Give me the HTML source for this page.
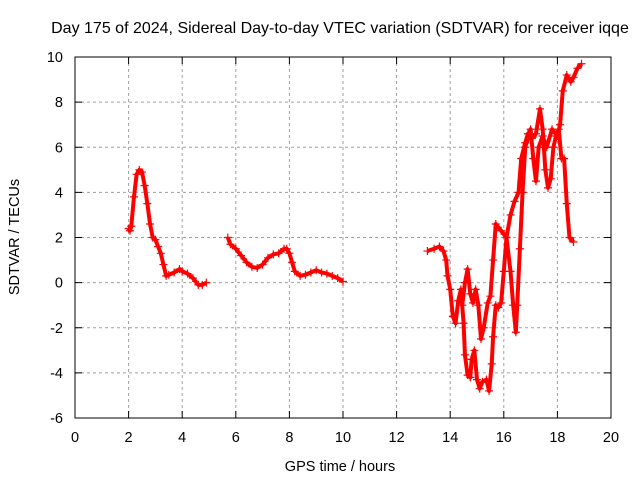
<!DOCTYPE html>
<html><head><meta charset="utf-8"><style>
body{margin:0;background:#fff}
svg{display:block;font-family:"Liberation Sans",sans-serif}
</style></head><body>
<svg id="chart" width="640" height="480" viewBox="0 0 640 480" xmlns="http://www.w3.org/2000/svg">
<rect width="640" height="480" fill="#fff"/>
<text x="340" y="33" font-size="16" text-anchor="middle">Day 175 of 2024, Sidereal Day-to-day VTEC variation (SDTVAR) for receiver iqqe</text>
<g id="grid"></g><g id="ticks"></g><g id="series"></g>
<rect x="75" y="57" width="536" height="361" fill="none" stroke="#000" stroke-width="1"/>
<text x="340" y="471" font-size="14.5" text-anchor="middle">GPS time / hours</text>
<text transform="translate(19,237) rotate(-90)" font-size="14.5" text-anchor="middle">SDTVAR / TECUs</text>
</svg>
<script>
const xTicks=[0,2,4,6,8,10,12,14,16,18,20];
const yTicks=[-6,-4,-2,0,2,4,6,8,10];
const seg1Time=[2.0,2.05,2.1,2.2,2.3,2.4,2.5,2.6,2.7,2.8,2.9,3.0,3.1,3.2,3.3,3.4,3.5,3.7,3.9,4.0,4.2,4.4,4.6,4.75,4.9];
const seg1Val=[2.4,2.3,2.5,3.8,4.8,5.0,4.9,4.3,3.5,2.6,2.0,1.9,1.6,1.3,0.8,0.3,0.35,0.45,0.6,0.5,0.4,0.2,-0.1,-0.1,0.0];
const seg2Time=[5.7,5.8,6.0,6.2,6.4,6.6,6.8,7.0,7.2,7.4,7.6,7.8,7.9,8.0,8.1,8.2,8.4,8.6,8.8,9.0,9.2,9.4,9.6,9.8,10.0];
const seg2Val=[2.0,1.7,1.5,1.2,0.9,0.7,0.65,0.8,1.1,1.25,1.3,1.5,1.5,1.3,0.9,0.5,0.3,0.35,0.45,0.55,0.45,0.4,0.3,0.2,0.05];
const seg3Time=[13.15,13.4,13.6,13.75,13.85,13.9,14.0,14.1,14.2,14.3,14.4,14.5,14.55,14.65,14.75,14.8,14.9,15.0,15.1,15.2,15.35,15.45,15.55,15.6,15.7,15.8,15.9,16.0,16.1,16.25,16.4,16.55,16.65,16.8,16.9,17.05,17.2,17.35,17.45,17.55,17.65,17.75,17.85,17.95,18.05,18.15,18.25,18.35,18.45,18.6];
const seg3Val=[1.4,1.5,1.6,1.4,1.0,0.3,-0.3,-1.5,-1.8,-0.8,-0.3,-1.8,-3.2,-4.1,-4.2,-3.4,-3.0,-4.3,-4.7,-4.4,-4.3,-4.8,-3.6,-2.4,-1.0,-1.1,-0.9,0.5,2.0,3.0,3.6,4.0,5.5,6.2,6.6,6.4,6.6,7.7,6.8,5.0,4.2,4.6,6.0,6.5,6.8,5.5,5.5,3.5,2.0,1.8];
const seg4Time=[14.45,14.55,14.65,14.75,14.85,14.95,15.05,15.15,15.25,15.4,15.5,15.6,15.7,15.9,16.1,16.25,16.35,16.45,16.5,16.6,16.7,16.8,17.0,17.1,17.2,17.3,17.45,17.6,17.8,18.0,18.1,18.2,18.35,18.5,18.6,18.75,18.9];
const seg4Val=[-1.0,0.0,0.6,-0.5,-0.9,-0.3,-1.0,-2.5,-2.0,-0.9,-0.6,1.0,2.6,2.3,2.0,0.5,-1.0,-2.2,-1.0,1.5,4.0,6.0,6.8,5.5,4.5,6.0,6.5,6.0,6.8,6.5,7.0,8.5,9.2,8.9,9.1,9.5,9.7];

const X0=75,X1=611,Y0=418,Y1=57;
const xs=v=>X0+(v-0)/(20-0)*(X1-X0);
const ys=v=>Y0-(v+6)/(16)*(Y0-Y1);
const NS="http://www.w3.org/2000/svg";
function mk(t,a,p){const e=document.createElementNS(NS,t);for(const k in a)e.setAttribute(k,a[k]);p.appendChild(e);return e;}
const grid=document.getElementById('grid'),ticks=document.getElementById('ticks'),series=document.getElementById('series');
xTicks.forEach(v=>{const x=xs(v);
 if(v>0&&v<20){const g=mk('line',{x1:x,x2:x,y1:Y1,y2:Y0,stroke:'#a0a0a0','stroke-dasharray':'3,3'},grid);
 
 }
 mk('line',{x1:x,x2:x,y1:Y0,y2:Y0-7,stroke:'#000'},ticks);
 mk('line',{x1:x,x2:x,y1:Y1,y2:Y1+7,stroke:'#000'},ticks);
 const t=mk('text',{x:x,y:442,'font-size':14.5,'text-anchor':'middle'},ticks);t.textContent=v;
 
 });
yTicks.forEach(v=>{const y=ys(v);
 if(v>-6&&v<10){const g=mk('line',{x1:X0,x2:X1,y1:y,y2:y,stroke:'#a0a0a0','stroke-dasharray':'3,3'},grid);
 
 }
 mk('line',{x1:X0,x2:X0+7,y1:y,y2:y,stroke:'#000'},ticks);
 mk('line',{x1:X1,x2:X1-7,y1:y,y2:y,stroke:'#000'},ticks);
 const t=mk('text',{x:63,y:y+5,'font-size':14.5,'text-anchor':'end'},ticks);t.textContent=v;
 
 });
[[seg1Time,seg1Val],[seg2Time,seg2Val],[seg3Time,seg3Val],[seg4Time,seg4Val]].forEach(([T,V],i)=>{
 const g=mk('g',{},series);
 
 
 mk('polyline',{points:T.map((t,j)=>xs(t)+','+ys(V[j])).join(' '),fill:'none',stroke:'#f00','stroke-width':4,'stroke-linejoin':'round'},g);
 T.forEach((t,j)=>{const x=xs(t),y=ys(V[j]);
  mk('path',{d:`M${x-4},${y}h8M${x},${y-4}v8`,stroke:'#f00','stroke-width':1.2},g);});
});
</script>
</body></html>
